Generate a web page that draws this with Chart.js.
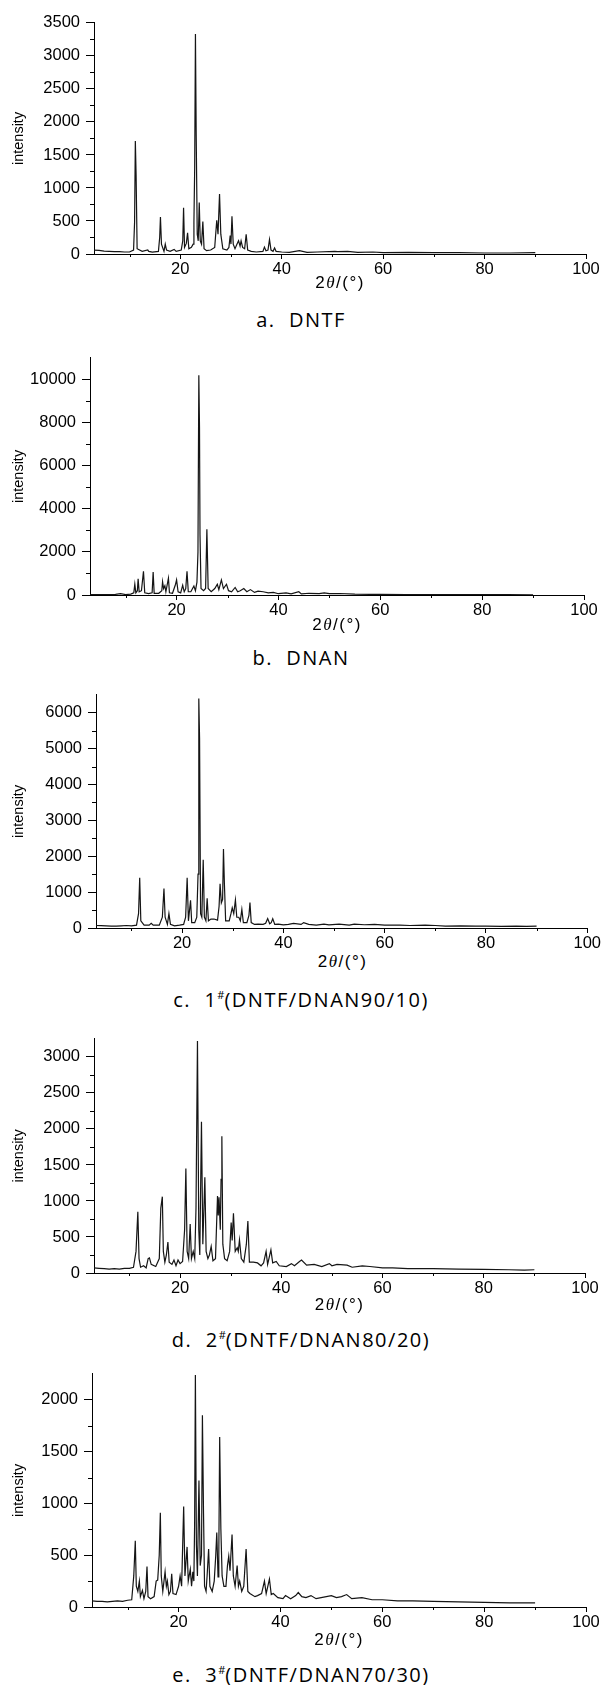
<!DOCTYPE html>
<html>
<head>
<meta charset="utf-8">
<script src="https://cdn.jsdelivr.net/npm/chart.js@4.4.0/dist/chart.umd.min.js"></script>
<style>
  html, body { margin: 0; padding: 0; background: #fff; }
  #page { position: relative; width: 602px; height: 1685px; overflow: hidden; }
  #page canvas { position: absolute; left: 0; }
  .xtitle { position: absolute; font-family: 'Liberation Sans', Arial, sans-serif; font-size: 17px; line-height: 20px;
            color: #000; white-space: nowrap; transform: translateX(-50%); letter-spacing: 1.5px; }
  .xtitle i { font-family: 'Liberation Serif', serif; }
  .caption { position: absolute; left: 0; width: 602px; text-align: center; font-family: 'Open Sans', sans-serif;
             font-size: 20px; line-height: 24px; letter-spacing: 1.5px; color: #000; white-space: pre; }
  .caption sup { font-size: 11px; vertical-align: 8px; line-height: 0; letter-spacing: 0; }
</style>
</head>
<body>
<div id="page"></div>
<script>
// diffraction patterns, [2theta, intensity]
const dntf = [[3,60],[4,55],[5,45],[6,40],[7,35],[8,35],[9,30],[10,30],[10.8,60],[11.0,480],[11.15,1710],[11.3,1200],[11.5,80],
  [12.5,40],[13.6,60],[13.8,40],[14.5,30],[15.7,40],[15.95,250],[16.1,560],[16.3,150],[16.8,40],[17.05,150],[17.3,60],[18,40],
  [18.8,70],[19.2,40],[20.2,60],[20.5,200],[20.66,700],[20.85,100],[21.2,160],[21.45,320],[21.7,80],[22.2,100],[22.55,150],
  [22.7,480],[22.85,1300],[23.0,3330],[23.15,1800],[23.35,300],[23.55,200],[23.75,780],[23.95,200],[24.2,150],[24.46,490],
  [24.7,80],[25.2,50],[26,60],[26.8,100],[27.2,510],[27.45,300],[27.75,910],[28.0,300],[28.4,80],[29.2,60],[29.6,100],
  [29.85,280],[30.0,150],[30.2,570],[30.45,150],[30.8,80],[31.2,150],[31.5,200],[31.8,120],[32.0,200],[32.3,100],[32.7,80],
  [33.0,300],[33.3,60],[34,40],[35,30],[36.3,40],[36.6,104],[36.9,50],[37.3,60],[37.6,220],[37.9,60],[38.3,40],[38.6,90],
  [38.9,40],[40,30],[41.5,25],[43.5,50],[45,25],[47,30],[50.5,40],[51,35],[53,40],[55,25],[58,30],[60,20],[65,25],[70,20],
  [75,20],[80,15],[85,15],[90,20]];

const dnan = [[3,20],[6,20],[8,30],[9,60],[10,20],[11,40],[11.6,100],[11.8,500],[12.0,100],[12.3,200],[12.45,750],[12.65,150],
  [13.1,200],[13.5,1100],[13.75,100],[14.5,60],[15.2,100],[15.4,1070],[15.6,80],[16.5,80],[17.1,200],[17.25,620],[17.45,300],
  [17.7,430],[17.9,150],[18.4,780],[18.6,100],[19.2,80],[19.8,500],[20.0,700],[20.3,150],[20.8,100],[21.2,450],[21.5,150],
  [21.8,300],[22.05,1100],[22.3,150],[22.8,150],[23.4,420],[23.7,200],[24.0,600],[24.2,2000],[24.37,10200],[24.5,7800],
  [24.6,2800],[24.8,300],[25.3,200],[25.7,300],[25.95,3050],[26.2,300],[26.8,150],[27.5,300],[28.0,500],[28.3,250],[28.8,700],
  [29.2,300],[29.8,500],[30.2,200],[30.8,150],[31.5,350],[32,150],[32.5,200],[33.2,300],[33.8,150],[34.5,250],[35.3,120],
  [36,180],[37,150],[38,100],[39,120],[40,60],[41.5,100],[42.5,50],[44,150],[44.5,50],[46,80],[48,60],[49,100],[50,60],
  [52,70],[55,40],[58,30],[60,25],[65,20],[70,15],[75,15],[80,15],[85,15],[90,10]];

const mix9010 = [[3,70],[4,65],[5,60],[6,55],[7,50],[8,60],[9,70],[10,60],[11,80],[11.4,400],[11.63,1400],[11.85,200],[12.5,80],
  [13.5,80],[13.9,130],[14.3,80],[15.5,80],[16.1,300],[16.42,1100],[16.65,300],[17.1,100],[17.4,400],[17.7,100],[18.5,60],
  [19.5,80],[20.3,100],[20.7,300],[21.0,1400],[21.25,200],[21.67,770],[21.9,150],[22.5,150],[22.9,300],[23.15,1500],[23.3,6400],
  [23.45,5300],[23.65,400],[23.9,300],[24.17,1900],[24.4,300],[24.7,200],[24.95,830],[25.2,200],[25.7,250],[26.3,250],[27.0,220],
  [27.3,600],[27.5,1230],[27.75,700],[28.0,800],[28.17,2200],[28.35,1250],[28.6,200],[29.3,200],[29.65,400],[29.9,560],[30.2,400],
  [30.53,780],[30.8,300],[31.2,300],[31.5,200],[31.8,520],[32.1,150],[32.8,150],[33.2,350],[33.4,710],[33.65,150],[34.3,100],
  [35,110],[36,100],[36.5,130],[36.9,265],[37.3,120],[37.6,150],[37.9,260],[38.3,100],[39,110],[40,90],[41,100],[42,130],
  [43.5,100],[44,150],[45,100],[46.5,80],[48,110],[49,90],[51,110],[53,80],[54,110],[56,90],[58,100],[60,80],[63,80],[65,70],
  [68,80],[70,70],[72,50],[75,60],[78,50],[80,50],[83,45],[86,50],[88,45],[90,50]];

const mix8020 = [[3,70],[4,65],[5,60],[6,55],[7,60],[8,55],[9,65],[10,65],[10.8,80],[11.3,300],[11.66,850],[11.9,200],[12.2,80],
  [12.8,100],[13.3,70],[13.7,200],[13.95,210],[14.3,120],[15.2,90],[15.9,200],[16.2,900],[16.5,1060],[16.7,300],[17.0,150],
  [17.3,250],[17.6,430],[17.85,150],[18.4,120],[18.8,180],[19.2,100],[19.6,180],[20.0,130],[20.5,160],[20.9,600],[21.15,1450],
  [21.4,300],[21.7,200],[22.0,680],[22.25,200],[22.6,300],[22.9,200],[23.15,900],[23.44,3220],[23.7,600],[23.9,250],[24.23,2100],
  [24.5,400],[24.9,1330],[25.15,300],[25.5,200],[25.8,250],[26.15,370],[26.5,170],[27.0,200],[27.4,1070],[27.55,800],[27.7,1050],
  [27.95,600],[28.1,1300],[28.26,1900],[28.45,400],[28.8,200],[29.3,170],[29.8,300],[30.1,700],[30.3,450],[30.55,830],[30.9,300],
  [31.3,350],[31.5,300],[31.74,460],[32.1,200],[32.6,150],[33.1,400],[33.4,720],[33.7,150],[34.5,150],[35.3,140],[36,100],
  [36.5,140],[37.0,300],[37.3,120],[37.95,320],[38.3,140],[39,160],[39.6,100],[41,90],[42,130],[42.6,100],[43.6,160],[44,180],
  [45,110],[46.5,120],[48,90],[49.5,130],[50,100],[51,120],[53,110],[54,80],[56,100],[57.5,90],[60,70],[62,70],[65,60],[70,60],
  [75,55],[80,50],[85,45],[88,40],[90,45]];

const mix7030 = [[3,60],[4,55],[5,55],[6,50],[7,55],[8,60],[9,55],[10,65],[10.8,70],[11.2,300],[11.5,640],[11.7,200],[12.0,150],
  [12.3,250],[12.5,100],[12.9,160],[13.2,80],[13.55,150],[13.8,390],[14.0,100],[14.5,80],[15.2,100],[15.6,250],[15.9,260],
  [16.2,500],[16.42,910],[16.6,300],[16.9,150],[17.35,340],[17.6,200],[17.8,250],[18.1,120],[18.4,150],[18.65,320],[18.9,130],
  [19.5,120],[20.0,200],[20.3,300],[20.6,200],[21.0,970],[21.25,300],[21.67,580],[21.9,250],[22.3,365],[22.55,200],[22.8,340],
  [23.0,250],[23.15,800],[23.3,2240],[23.5,600],[23.7,300],[24.0,1220],[24.25,400],[24.5,500],[24.68,1850],[24.9,900],[25.1,200],
  [25.4,150],[25.6,300],[25.9,560],[26.15,200],[26.6,150],[27.0,250],[27.3,500],[27.5,720],[27.75,290],[27.9,500],[28.07,1640],
  [28.3,760],[28.55,300],[28.9,200],[29.3,200],[29.6,400],[29.85,490],[30.1,350],[30.5,700],[30.75,300],[31.1,200],[31.5,400],
  [31.75,200],[32.0,250],[32.4,150],[32.8,200],[33.26,560],[33.6,150],[34.0,130],[35,100],[35.5,110],[36.3,130],[36.86,250],
  [37.2,130],[37.84,270],[38.2,120],[38.6,130],[39.5,90],[40.5,80],[41,110],[42,80],[43,110],[43.5,140],[44.2,100],[45,90],
  [46,110],[47,80],[48,90],[50,110],[51,90],[52,100],[53,120],[54,80],[56,90],[58,70],[60,70],[63,60],[66,60],[70,55],[75,50],
  [80,45],[85,40],[88,40],[90,40]];

// axis ticks
const xTicks = [20, 40, 60, 80, 100];
const xMinor = [10, 30, 50, 70, 90];
const aTicks = [0, 500, 1000, 1500, 2000, 2500, 3000, 3500];
const aMinor = [250, 750, 1250, 1750, 2250, 2750, 3250];
const bTicks = [0, 2000, 4000, 6000, 8000, 10000];
const bMinor = [1000, 3000, 5000, 7000, 9000];
const cTicks = [0, 1000, 2000, 3000, 4000, 5000, 6000];
const cMinor = [500, 1500, 2500, 3500, 4500, 5500];
const dTicks = [0, 500, 1000, 1500, 2000, 2500, 3000];
const dMinor = [250, 750, 1250, 1750, 2250, 2750];
const eTicks = [0, 500, 1000, 1500, 2000];
const eMinor = [250, 750, 1250, 1750];

const captions = [
  'a.  DNTF',
  'b.  DNAN',
  'c.  1<sup>#</sup>(DNTF/DNAN90/10)',
  'd.  2<sup>#</sup>(DNTF/DNAN80/20)',
  'e.  3<sup>#</sup>(DNTF/DNAN70/30)'
];

// plot boxes on the page: left, right, top, bottom
const panels = [
  { data: dntf,    yMax: 3500,  ticks: aTicks, minor: aMinor, box: [94, 586, 19, 254],   xTitleY: 283,  capY: 320 },
  { data: dnan,    yMax: 11000, ticks: bTicks, minor: bMinor, box: [90, 584, 354, 595],  xTitleY: 625,  capY: 658 },
  { data: mix9010, yMax: 6500,  ticks: cTicks, minor: cMinor, box: [96, 589, 691, 928],  xTitleY: 962,  capY: 1000 },
  { data: mix8020, yMax: 3250,  ticks: dTicks, minor: dMinor, box: [94, 585, 1035, 1273], xTitleY: 1305, capY: 1340 },
  { data: mix7030, yMax: 2250,  ticks: eTicks, minor: eMinor, box: [92, 586, 1370, 1607], xTitleY: 1640, capY: 1675 }
];

const FONT = "'Liberation Sans', Arial, sans-serif";
const INK = '#000';
const page = document.getElementById('page');

const minorTicks = {
  id: 'minorTicks',
  afterDraw(chart, args, opts) {
    const { ctx, chartArea, scales } = chart;
    ctx.save();
    ctx.strokeStyle = INK;
    ctx.lineWidth = 1;
    ctx.beginPath();
    opts.x.forEach(v => {
      const px = Math.round(scales.x.getPixelForValue(v)) + 0.5;
      ctx.moveTo(px, chartArea.bottom);
      ctx.lineTo(px, chartArea.bottom + 3);
    });
    opts.y.forEach(v => {
      const py = Math.round(scales.y.getPixelForValue(v)) + 0.5;
      ctx.moveTo(chartArea.left - 4, py);
      ctx.lineTo(chartArea.left, py);
    });
    ctx.stroke();
    ctx.restore();
  }
};

function makePanel(p, i) {
  const [left, right, top, bottom] = p.box;
  const padTop = 12, axisH = 24;
  const h = padTop + (bottom - top) + axisH;

  const canvas = document.createElement('canvas');
  canvas.width = 602;
  canvas.height = h;
  canvas.style.width = '602px';
  canvas.style.height = h + 'px';
  canvas.style.top = (top - padTop) + 'px';
  page.appendChild(canvas);

  new Chart(canvas, {
    type: 'line',
    data: {
      datasets: [{
        data: p.data.map(([x, y]) => ({ x, y })),
        borderColor: '#151515',
        borderWidth: 1.2,
        pointRadius: 0,
        tension: 0,
        fill: false
      }]
    },
    options: {
      responsive: false,
      animation: false,
      events: [],
      layout: { padding: { top: padTop, right: 602 - right, left: 0, bottom: 0 } },
      plugins: {
        legend: { display: false },
        tooltip: { enabled: false },
        minorTicks: { x: xMinor, y: p.minor }
      },
      scales: {
        x: {
          type: 'linear',
          min: 3,
          max: 100,
          afterBuildTicks: s => { s.ticks = xTicks.map(v => ({ value: v })); },
          afterFit: s => { s.height = axisH; },
          ticks: { color: INK, font: { family: FONT, size: 16.5 }, padding: 1, maxRotation: 0, autoSkip: false,
                   callback: v => String(v) },
          grid: { drawOnChartArea: false, drawTicks: true, tickLength: 5, color: INK },
          border: { color: INK, width: 1 }
        },
        y: {
          min: 0,
          max: p.yMax,
          afterBuildTicks: s => { s.ticks = p.ticks.map(v => ({ value: v })); },
          afterFit: s => { s.width = left; },
          ticks: { color: INK, font: { family: FONT, size: 16.5 }, padding: 6, autoSkip: false,
                   callback: v => String(v) },
          grid: { drawOnChartArea: false, drawTicks: true, tickLength: 8, color: INK },
          border: { color: INK, width: 1 },
          title: { display: true, text: 'intensity', color: INK, font: { family: FONT, size: 14.5 }, padding: { top: 10, bottom: 0 } }
        }
      }
    },
    plugins: [minorTicks]
  });

  const xt = document.createElement('div');
  xt.className = 'xtitle';
  xt.innerHTML = '2<i>θ</i>/(°)';
  xt.style.left = ((left + right) / 2) + 'px';
  xt.style.top = (p.xTitleY - 10) + 'px';
  page.appendChild(xt);

  const cap = document.createElement('div');
  cap.className = 'caption';
  cap.innerHTML = captions[i];
  cap.style.top = (p.capY - 12) + 'px';
  page.appendChild(cap);
}

panels.forEach(makePanel);
</script>
</body>
</html>
